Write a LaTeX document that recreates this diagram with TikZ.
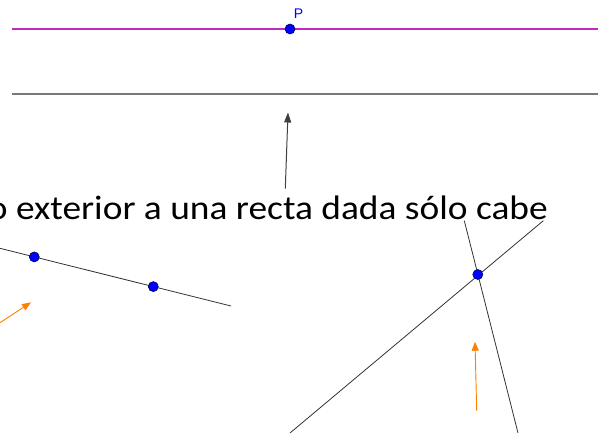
\documentclass[tikz,border=0pt]{standalone}
\usepackage{fontspec}
\setmainfont{Carlito}
\newfontfamily\labelfont{Liberation Sans}
\usetikzlibrary{arrows.meta}
\definecolor{geomag}{RGB}{195,40,195}
\definecolor{geoorange}{RGB}{255,128,0}
\definecolor{geoline}{RGB}{50,50,50}
\definecolor{geogray}{RGB}{120,120,120}
\begin{document}
\begin{tikzpicture}[x=1pt,y=-1pt,
  dot/.style={circle,fill=blue,draw=black!70!blue,line width=0.6pt,inner sep=0pt,minimum size=10pt},
  geoln/.style={draw=geoline,line width=0.8pt},
  magln/.style={draw=geomag,line width=1.2pt},
  grayln/.style={draw=geogray,line width=2pt},
  orangearrow/.style={draw=geoorange,line width=0.9pt,-{Triangle[length=9pt,width=7pt]}},
  blackarrow/.style={draw=black!75,line width=1pt,-{Triangle[length=10pt,width=7pt]}}]
\useasboundingbox (0,0) rectangle (598,432);
\clip (0,0) rectangle (598,432);
% top parallel lines
\coordinate (m1) at (12,29);
\coordinate (m2) at (598,29);
\draw[magln] (m1) -- (m2);
\coordinate (g1) at (12,93.5);
\coordinate (g2) at (598,93.5);
\draw[grayln] (g1) -- (g2);
\node[dot] (P) at (290,29) {};
\node[text=blue,font=\labelfont\fontsize{14}{16}\selectfont,inner sep=0pt] (Plab) at (298.5,14) {P};
% black arrow
\coordinate (ba1) at (285.3,188.5);
\coordinate (ba2) at (288,112.5);
\draw[blackarrow] (ba1) -- (ba2);
% text
\node[anchor=base east,inner sep=0pt,font=\fontsize{34}{40}\selectfont] (txt) at (548,219) {\scalebox{1.1}[1]{o exterior a una recta dada sólo cabe}};
% lower-left line with two points
\coordinate (l1) at (0,248.3);
\coordinate (l2) at (231,306);
\draw[geoln] (l1) -- (l2);
\node[dot] (A) at (34.3,256.9) {};
\node[dot] (B) at (153.3,286.6) {};
\coordinate (oa1) at (0,322.7);
\coordinate (oa2) at (31,302.3);
\draw[orangearrow] (oa1) -- (oa2);
% intersecting lines
\coordinate (r1) at (464.3,220.7);
\coordinate (r2) at (518,433);
\draw[geoln] (r1) -- (r2);
\coordinate (s1) at (543.3,220.7);
\coordinate (s2) at (290,433);
\draw[geoln] (s1) -- (s2);
\node[dot] (Q) at (477.8,274.5) {};
\coordinate (ob1) at (476.7,410.7);
\coordinate (ob2) at (475,341.7);
\draw[orangearrow] (ob1) -- (ob2);
\end{tikzpicture}
\end{document}
